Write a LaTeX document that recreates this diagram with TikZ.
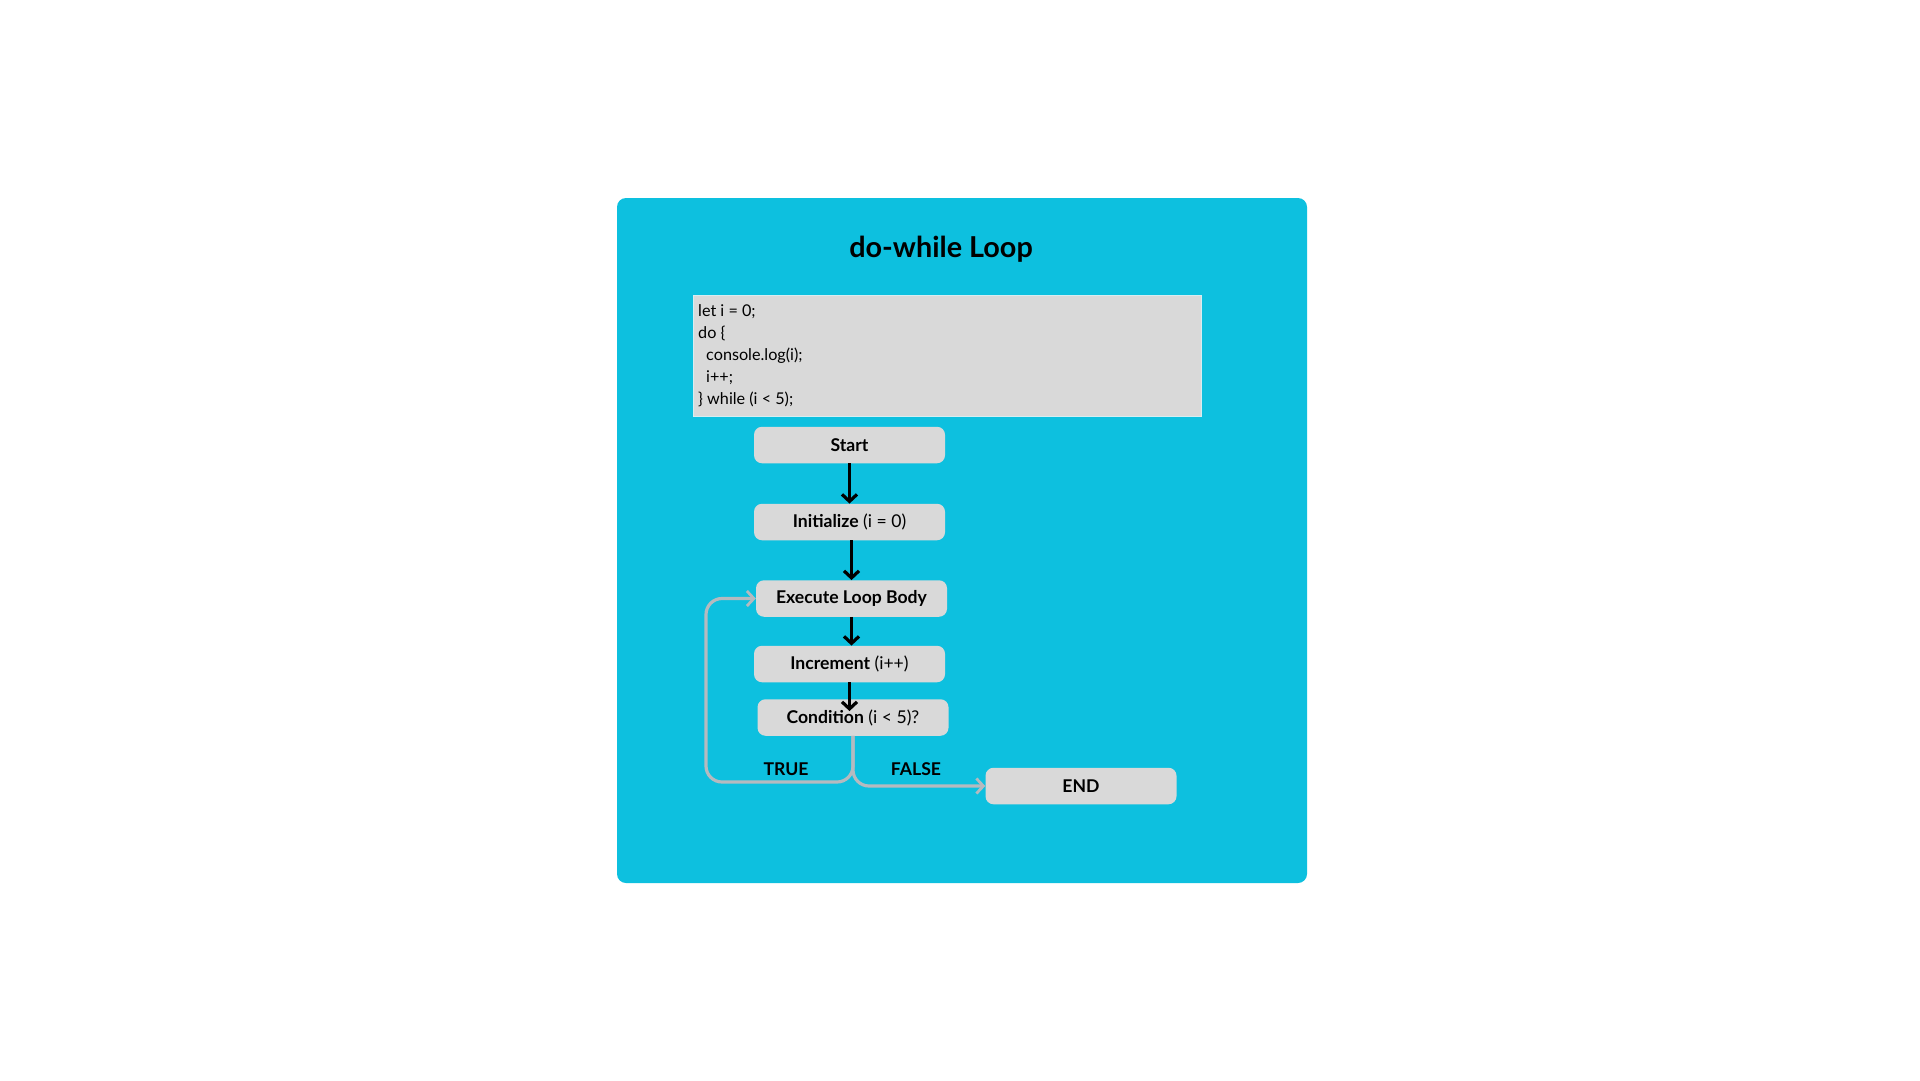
\documentclass[tikz,border=0pt]{standalone}
\usepackage{fontspec}
\setmainfont{Lato}
\usetikzlibrary{arrows.meta}
\definecolor{panelcyan}{HTML}{0DC0DF}
\definecolor{boxgray}{HTML}{D9D9D9}
\definecolor{conngray}{HTML}{B5BABF}
\newcommand\nodefnt{\fontsize{17.6}{21}\selectfont}
\newcommand\codefnt{\fontsize{16.2}{22.2}\selectfont}
\newcommand\titlefnt{\fontsize{28.8}{34}\selectfont\bfseries}
\tikzset{
  flowbox/.style={fill=boxgray, rounded corners=8pt, minimum width=191pt, minimum height=36.5pt, inner sep=0pt, font=\nodefnt},
  blackarrow/.style={draw=black, line width=3.6pt, -{Straight Barb[length=7pt,width=15pt,line width=3.2pt]}},
  grayconn/.style={draw=conngray, line width=3.2pt, rounded corners=16pt, -{Straight Barb[length=7pt,width=15pt,line width=2.8pt]}},
  lbl/.style={font=\nodefnt\bfseries, inner sep=0pt}
}
\begin{document}
\begin{tikzpicture}[x=1pt,y=-1pt]
\useasboundingbox (0,0) rectangle (1920,1080);
\fill[white] (0,0) rectangle (1920,1080);
% panel
\fill[panelcyan, rounded corners=9pt] (617,198) rectangle (1307,883);
\node[font=\titlefnt, inner sep=0pt] (title) at (941,249) {do-while Loop};
% code box
\node[fill=boxgray, draw=boxgray!70!panelcyan!40!white, line width=1pt, minimum width=508pt, minimum height=121pt, inner sep=0pt] (codebox) at (947,355.5) {};
\node[anchor=north west, align=left, inner sep=0pt, font=\codefnt] (code) at (698,304)
  {let i = 0;\\do \{\\\hspace*{8pt}console.log(i);\\\hspace*{8pt}i++;\\\} while (i < 5);};
% flow nodes
\node[flowbox] (start) at (849.5,445) {\textbf{Start}};
\node[flowbox] (init) at (849.5,522) {\textbf{Initialize} (i = 0)};
\node[flowbox] (exec) at (851.5,598.5) {\textbf{Execute Loop Body}};
\node[flowbox] (incr) at (849.5,664) {\textbf{Increment} (i++)};
\node[flowbox] (cond) at (853,717.5) {\textbf{Condition} (i < 5)?};
\node[flowbox] (end) at (1081,786) {\textbf{END}};
% black arrows
\draw[blackarrow] (start.south) -- (init.north);
\draw[blackarrow] (init.south -| exec.north) -- (exec.north);
\draw[blackarrow] (exec.south) -- (exec.south |- incr.north);
\draw[blackarrow, shorten >=-12pt] (incr.south) -- (incr.south |- cond.north);
% gray branches
\coordinate (loopbot) at (706,782);
\draw[grayconn] (cond.south) |- (loopbot) |- (exec.west);
\draw[grayconn] (cond.south) |- (end.west);
% labels
\node[lbl] (truelbl) at (786,769) {TRUE};
\node[lbl] (falselbl) at (916,769) {FALSE};
\end{tikzpicture}
\end{document}
